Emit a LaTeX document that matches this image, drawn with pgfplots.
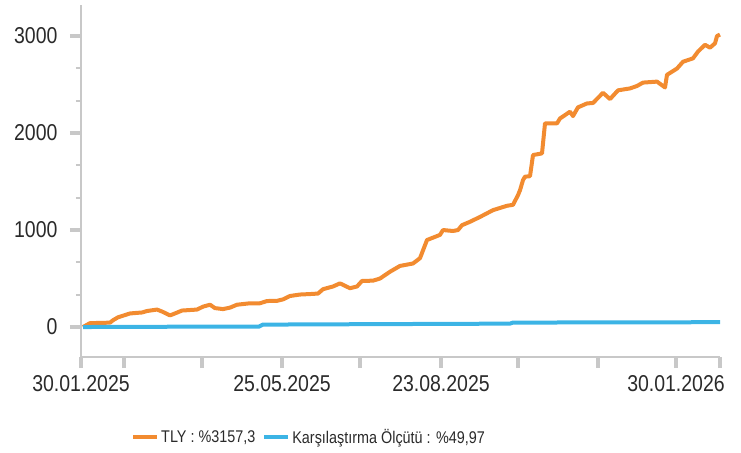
\documentclass[border=0pt]{standalone}
\usepackage{pgfplots}
\pgfplotsset{compat=1.18}
\usepackage{fontspec}
\setmainfont{Liberation Sans}[FakeStretch=0.85]
\definecolor{tlyorange}{HTML}{F28B30}
\definecolor{bmblue}{HTML}{3CB4E5}
\definecolor{axgray}{HTML}{C8C8C8}
\definecolor{txt}{HTML}{2A2A2A}
\begin{document}
\begin{tikzpicture}
\useasboundingbox (-81bp,-96bp) rectangle (660bp,357bp);
\begin{axis}[
  at={(0,0)}, anchor=south west,
  scale only axis, width=639bp, height=352bp,
  xmin=0, xmax=639, ymin=-309, ymax=3320,
  axis x line*=bottom, axis y line*=left,
  axis line style={axgray, line width=2.5bp},
  tick align=outside,
  major tick length=11bp, minor tick length=5bp,
  every tick/.style={axgray, line width=3.5bp},
  minor tick style={axgray, line width=2bp},
  xtick={0,43,121,201,279,360,437,517,595,639},
  xticklabels={30.01.2025,,,25.05.2025,,23.08.2025,,,30.01.2026,},
  ytick={0,1000,2000,3000},
  minor y tick num=2,
  /pgf/number format/assume math mode=true,
  /pgf/number format/set thousands separator={},
  ticklabel style={font=\fontsize{23}{23}\selectfont, text=txt},
  yticklabel style={xshift=-9bp},
  xticklabel style={yshift=-4bp},
  legend style={at={(0.0736,-0.227)}, anchor=west, draw=none, fill=none,
    font=\fontsize{17}{17}\selectfont, text=txt,
    /tikz/every even column/.append style={column sep=5bp}},
  legend columns=2, legend cell align=left,
  legend image code/.code={\draw[#1, line width=4bp] (0bp,0bp) -- (24bp,0bp);},
  clip=false,
]
\addplot[tlyorange, line width=4bp, line join=round, no marks] coordinates {
(2,0) (9,40) (29,45) (32,70) (37,100) (49,140) (61,150) (66,165) (76,180)
(81,160) (89,120) (94,140) (101,170) (116,180) (122,210) (129,230) (134,195)
(142,185) (149,200) (156,230) (169,245) (179,245) (186,268) (196,270) (202,285)
(209,320) (219,335) (229,340) (237,345) (242,390) (252,418) (259,450) (269,400)
(276,418) (281,475) (292,478) (299,500) (309,570) (319,630) (332,655) (339,710)
(346,897) (359,950) (362,1000) (372,990) (377,1000) (381,1050) (389,1085)
(399,1135) (412,1205) (426,1250) (432,1260) (437,1360) (439,1410) (442,1515)
(444,1550) (449,1555) (452,1773) (461,1790) (464,2100) (476,2100) (479,2150)
(489,2220) (492,2175) (497,2265) (506,2305) (512,2310) (522,2415) (529,2350)
(537,2440) (549,2460) (556,2485) (562,2520) (576,2530) (584,2470) (586,2600)
(596,2665) (602,2735) (612,2770) (617,2840) (624,2910) (629,2880) (634,2925)
(636,3000) (639,3015)
};
\addlegendentry{TLY : \%3157,3}
\addplot[bmblue, line width=4bp, no marks] coordinates {
(2,0) (60,2) (120,4) (178,5) (182,25) (300,30) (429,35) (432,46) (560,48) (639,50)
};
\addlegendentry{Karşılaştırma Ölçütü : \%49,97}
\end{axis}
\end{tikzpicture}
\end{document}
